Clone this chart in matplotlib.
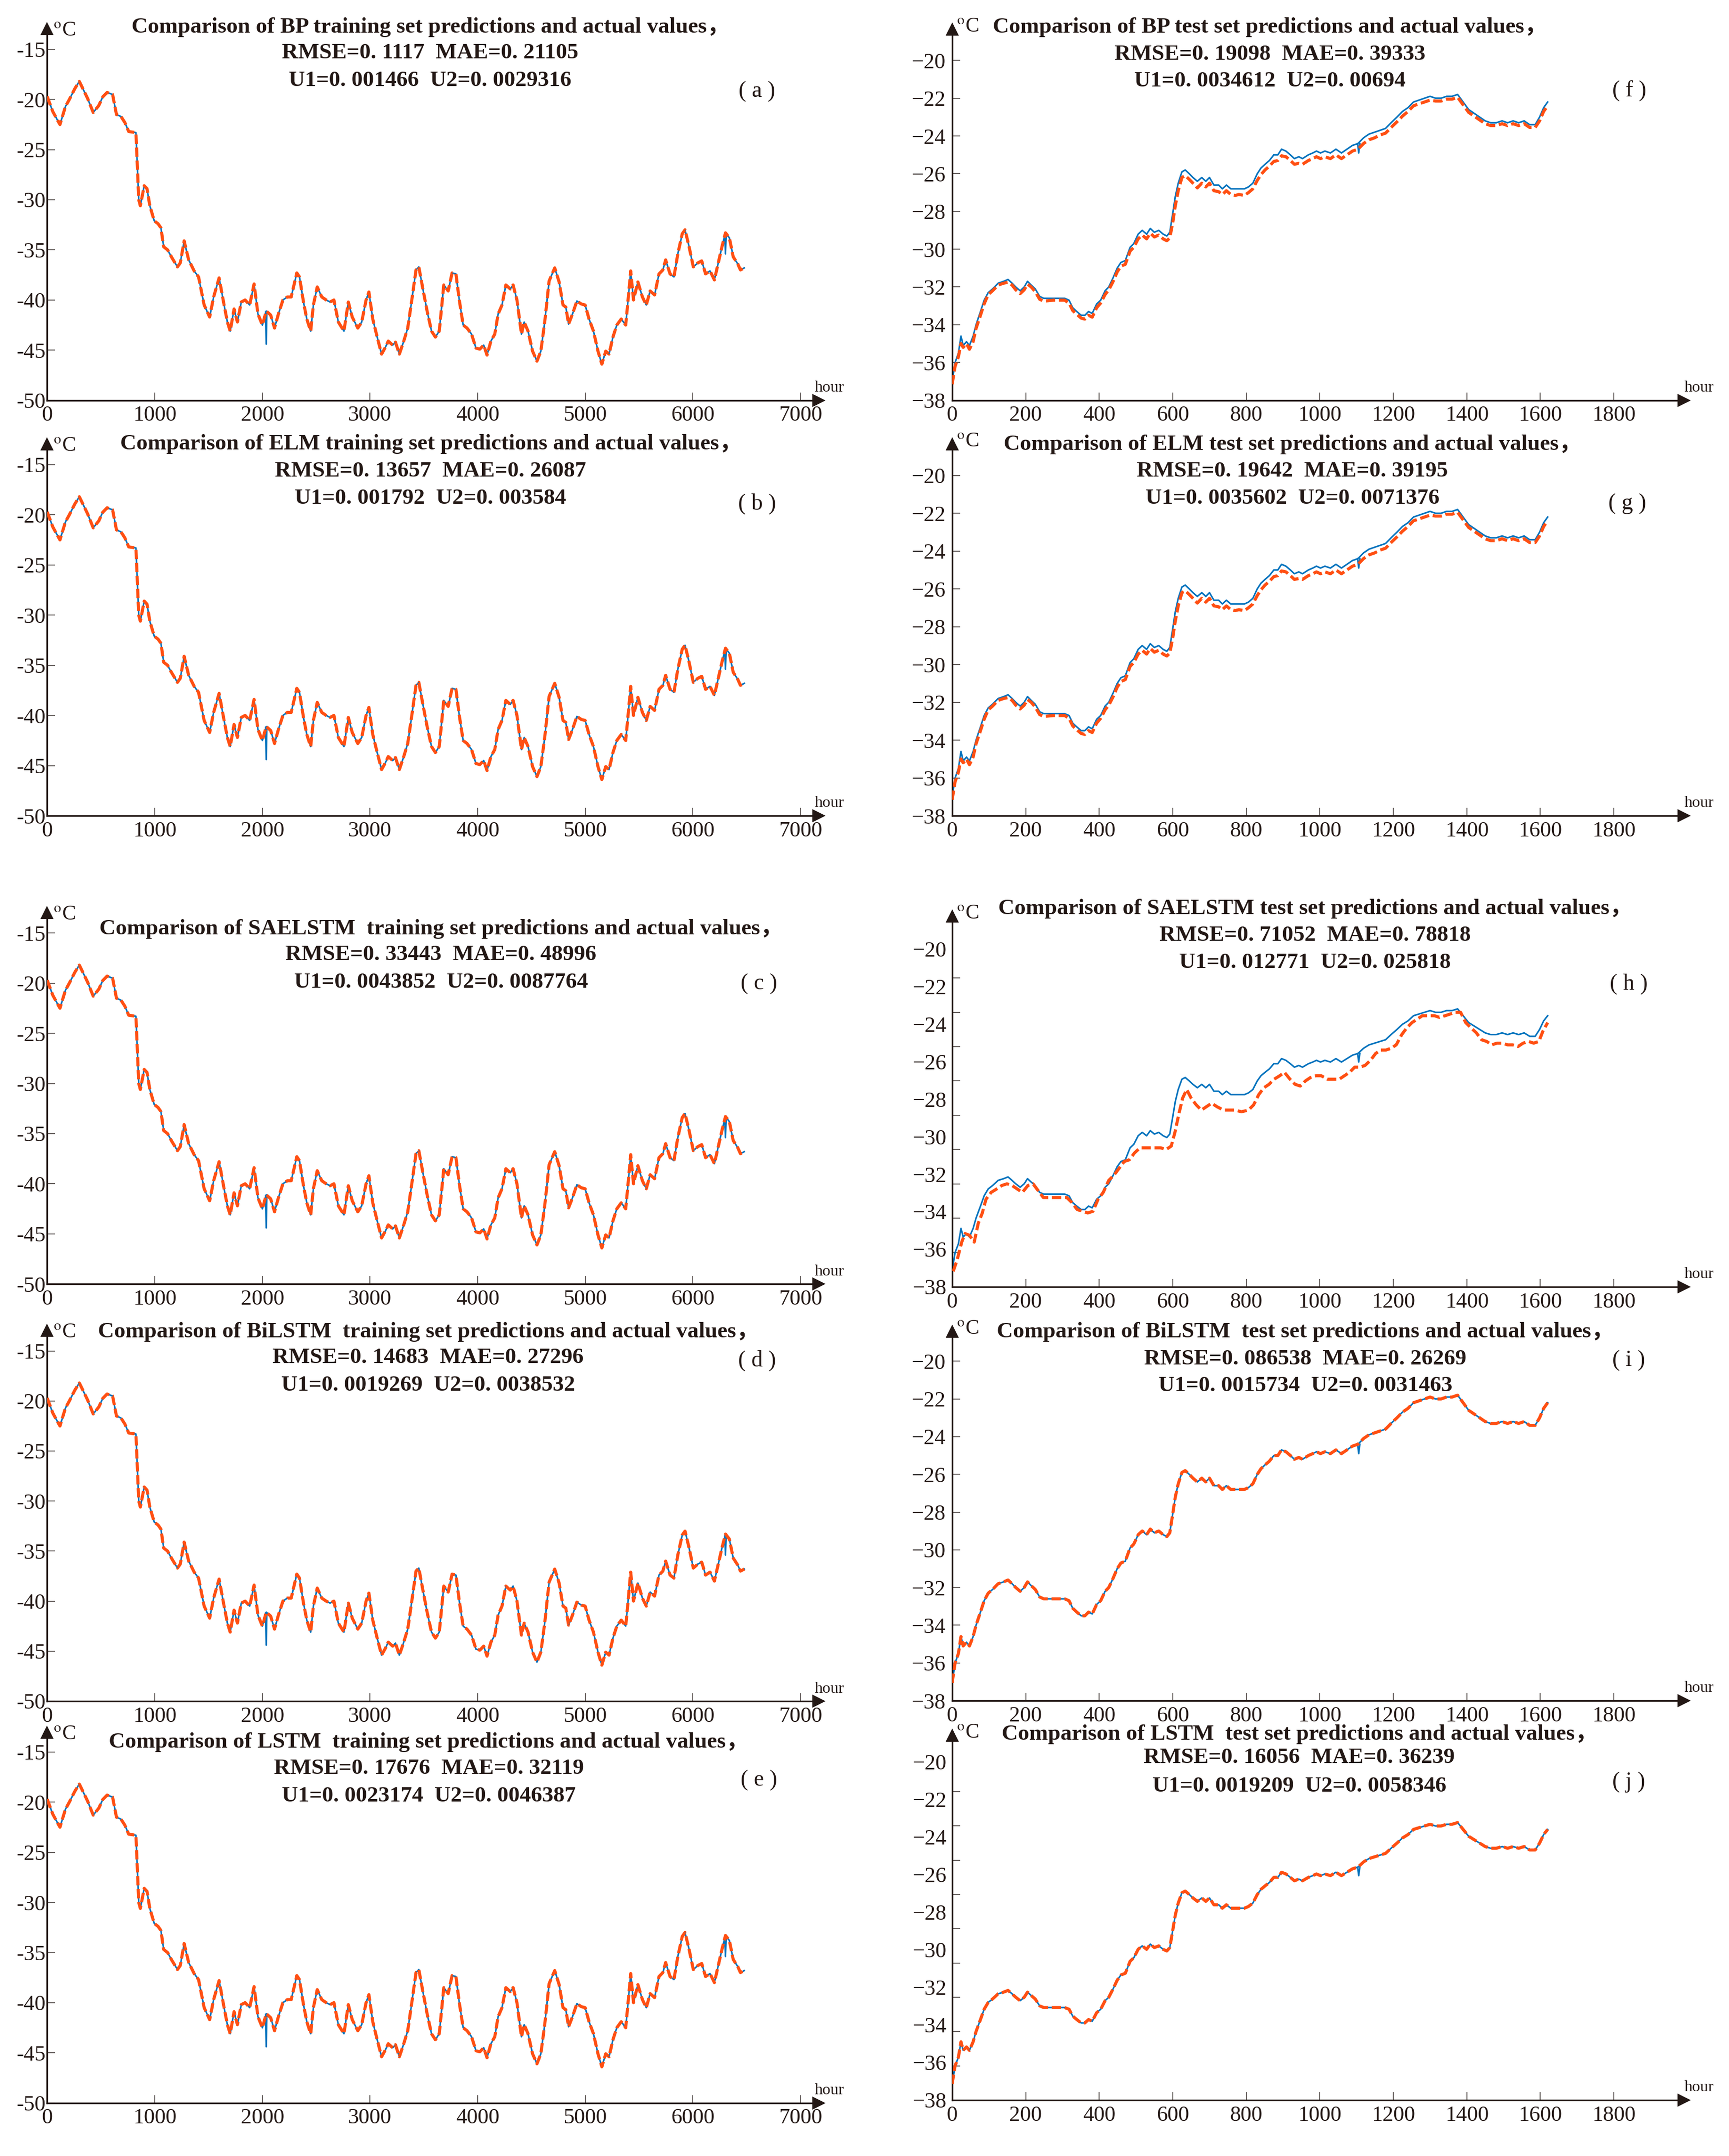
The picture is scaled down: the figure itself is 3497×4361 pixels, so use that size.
import matplotlib
matplotlib.use("Agg")
import matplotlib.pyplot as plt

# output size
W, H = 3497, 4361
DPI = 300

INK = '#231815'
BLUE = '#0072BD'
ORANGE = '#FF4F12'

# ---------------- data ----------------
# training set (shared by panels a-e), temperature in degC
train_hours = [0, 52, 103, 119, 170, 206, 258, 299, 335, 376, 428, 480, 516, 557, 608, 644, 686, 722, 758, 825,
               851, 866, 902, 928, 954, 995, 1031, 1057, 1083, 1119, 1160, 1211, 1237, 1273, 1315, 1366, 1407, 1459,
               1510, 1547, 1598, 1639, 1675, 1701, 1737, 1768, 1804, 1840, 1882, 1923, 1959, 2000, 2036, 2077, 2113,
               2149, 2191, 2232, 2268, 2294, 2320, 2345, 2382, 2413, 2449, 2474, 2510, 2552, 2593, 2629, 2665, 2706,
               2758, 2799, 2835, 2887, 2923, 2964, 2990, 3026, 3067, 3108, 3144, 3170, 3211, 3237, 3273, 3314, 3351,
               3386, 3428, 3454, 3490, 3531, 3572, 3608, 3644, 3686, 3727, 3763, 3799, 3830, 3866, 3902, 3944, 3985,
               4021, 4057, 4088, 4124, 4160, 4191, 4227, 4263, 4304, 4330, 4366, 4408, 4433, 4469, 4511, 4552, 4588,
               4624, 4665, 4717, 4758, 4794, 4820, 4846, 4882, 4923, 4964, 5000, 5036, 5077, 5119, 5155, 5191, 5222,
               5258, 5294, 5335, 5377, 5397, 5423, 5449, 5490, 5532, 5568, 5604, 5645, 5686, 5722, 5748, 5789, 5825,
               5861, 5902, 5928, 5964, 6005, 6047, 6083, 6119, 6160, 6201, 6237, 6273, 6304, 6340, 6376, 6418, 6443,
               6479]
train_actual = [-19.7, -21.2, -22.2, -22.5, -20.7, -20.0, -18.9, -18.2, -19.0, -19.9, -21.3, -20.6, -19.75, -19.3,
                -19.5, -21.5, -21.7, -22.3, -23.2, -23.3, -30.0, -30.6, -28.6, -28.9, -30.6, -32.1, -32.4, -32.8,
                -34.7, -35.0, -35.8, -36.7, -36.3, -34.1, -36.0, -37.1, -37.7, -40.5, -41.7, -39.7, -37.8, -40.2,
                -42.2, -43.1, -40.9, -42.2, -40.2, -40.0, -40.5, -38.4, -41.4, -42.5, -41.1, -41.5, -42.8, -41.4,
                -40.0, -39.7, -39.7, -38.5, -37.3, -37.7, -40.2, -41.9, -43.1, -40.5, -38.7, -39.7, -40.0, -40.2,
                -40.0, -42.2, -43.1, -40.2, -41.7, -42.8, -42.2, -40.0, -39.2, -41.9, -43.7, -45.4, -44.7, -44.1,
                -44.5, -44.2, -45.4, -44.1, -42.8, -40.2, -37.0, -36.7, -38.8, -41.1, -43.1, -43.7, -43.1, -38.5,
                -39.1, -37.3, -37.4, -40.0, -42.5, -42.8, -43.4, -44.8, -44.9, -44.5, -45.5, -44.1, -43.4, -41.4,
                -40.5, -38.5, -38.9, -38.5, -40.0, -43.4, -42.2, -43.1, -45.1, -46.1, -45.1, -42.2, -38.1, -36.8,
                -38.2, -40.5, -40.7, -42.4, -41.4, -40.1, -40.4, -40.5, -41.9, -43.1, -45.1, -46.4, -45.1, -45.4,
                -43.7, -42.5, -41.9, -42.5, -40.2, -37.1, -40.0, -38.2, -39.7, -40.5, -39.1, -39.5, -37.4, -37.0,
                -36.0, -37.4, -37.7, -35.4, -33.4, -33.0, -34.6, -36.7, -36.3, -36.1, -37.4, -37.1, -38.0, -36.3,
                -34.6, -33.3, -33.8, -35.7, -36.4, -37.0, -36.8]
# short downward spikes that only the actual series shows
train_spike_hours = [[2030, 2036, 2042], [6298, 6304, 6310]]
train_spike_vals = [[-41.2, -44.4, -41.3], [-33.5, -35.4, -33.6]]

# test set actual values (panels f-j)
test_hours = [0, 8, 17, 24, 30, 39, 47, 57, 65, 77, 87, 98, 110, 125, 140, 152, 163, 173, 185, 196, 205, 215, 226,
              238, 249, 276, 306, 318, 328, 339, 351, 361, 371, 381, 393, 404, 416, 426, 438, 449, 459, 471, 484,
              494, 506, 517, 529, 539, 550, 562, 574, 584, 592, 600, 607, 615, 625, 634, 645, 655, 667, 679, 690,
              700, 712, 725, 735, 746, 758, 770, 780, 795, 806, 818, 830, 840, 851, 863, 875, 886, 896, 908, 920,
              931, 943, 953, 969, 981, 991, 1002, 1014, 1029, 1044, 1059, 1074, 1089, 1104, 1119, 1134, 1149, 1164,
              1179, 1194, 1210, 1225, 1240, 1255, 1270, 1285, 1300, 1315, 1330, 1345, 1360, 1375, 1390, 1405, 1420,
              1435, 1450, 1465, 1480, 1496, 1511, 1526, 1541, 1556, 1571, 1586, 1598, 1609, 1620]
test_actual = [-37.05, -36.0, -35.5, -34.6, -35.1, -34.9, -35.1, -34.6, -34.0, -33.3, -32.7, -32.3, -32.1, -31.8,
               -31.7, -31.6, -31.8, -32.0, -32.2, -32.0, -31.7, -31.9, -32.1, -32.5, -32.6, -32.6, -32.6, -32.7,
               -33.1, -33.3, -33.5, -33.5, -33.3, -33.4, -32.9, -32.7, -32.2, -32.0, -31.5, -31.0, -30.7, -30.6,
               -29.9, -29.7, -29.2, -29.0, -29.2, -28.9, -29.1, -29.0, -29.2, -29.3, -29.1, -28.1, -27.2, -26.5,
               -25.9, -25.8, -26.0, -26.2, -26.4, -26.2, -26.4, -26.2, -26.6, -26.6, -26.8, -26.6, -26.8, -26.8,
               -26.8, -26.8, -26.7, -26.5, -26.0, -25.7, -25.5, -25.3, -25.0, -25.0, -24.7, -24.8, -25.0, -25.2,
               -25.1, -25.2, -25.0, -24.9, -24.8, -24.9, -24.8, -24.9, -24.7, -24.9, -24.7, -24.5, -24.4, -24.1,
               -23.9, -23.8, -23.7, -23.6, -23.3, -23.0, -22.7, -22.5, -22.2, -22.1, -22.0, -21.9, -22.0, -22.0,
               -21.9, -21.9, -21.8, -22.2, -22.6, -22.8, -23.0, -23.2, -23.3, -23.3, -23.2, -23.3, -23.2, -23.3,
               -23.2, -23.4, -23.4, -23.0, -22.5, -22.2]
test_spike_hours = [[1103, 1106, 1109]]
test_spike_vals = [[-24.4, -24.9, -24.4]]

# BP / ELM test predictions (same hours as test_hours)
test_pred_fg = [-37.15, -36.2, -35.7, -35.0, -35.2, -35.0, -35.3, -34.9, -34.2, -33.5, -32.9, -32.4, -32.2, -31.9,
                -31.8, -31.75, -31.9, -32.15, -32.35, -32.15, -31.85, -32.0, -32.25, -32.65, -32.75, -32.7, -32.7,
                -32.85, -33.25, -33.45, -33.65, -33.7, -33.5, -33.6, -33.1, -32.85, -32.4, -32.15, -31.7, -31.2,
                -30.9, -30.8, -30.1, -29.9, -29.45, -29.25, -29.45, -29.15, -29.35, -29.25, -29.45, -29.55, -29.4,
                -28.6, -27.7, -26.9, -26.2, -26.1, -26.3, -26.5, -26.75, -26.5, -26.7, -26.5, -26.9, -26.95, -27.1,
                -26.9, -27.1, -27.15, -27.1, -27.15, -27.0, -26.8, -26.35, -26.05, -25.8, -25.6, -25.35, -25.3,
                -25.05, -25.1, -25.3, -25.5, -25.45, -25.5, -25.3, -25.2, -25.1, -25.2, -25.1, -25.2, -25.0, -25.2,
                -25.0, -24.8, -24.7, -24.4, -24.2, -24.1, -23.95, -23.85, -23.55, -23.25, -22.95, -22.7, -22.4,
                -22.3, -22.2, -22.1, -22.15, -22.15, -22.05, -22.05, -21.95, -22.35, -22.75, -22.95, -23.15, -23.35,
                -23.45, -23.45, -23.35, -23.45, -23.35, -23.45, -23.35, -23.55, -23.55, -23.2, -22.7, -22.4]

# SAELSTM test predictions
test_pred_h_hours = [3, 14, 26, 35, 47, 60, 71, 82, 92, 106, 121, 135, 149, 163, 177, 191, 206, 220, 234, 248, 262,
                     277, 291, 312, 326, 340, 355, 369, 383, 397, 411, 426, 440, 454, 468, 482, 496, 511, 525, 539,
                     553, 567, 582, 596, 606, 617, 627, 638, 650, 664, 678, 692, 706, 720, 738, 752, 769, 787, 806,
                     820, 834, 848, 862, 876, 891, 904, 919, 933, 947, 961, 975, 990, 1004, 1021, 1036, 1053, 1067,
                     1081, 1095, 1109, 1123, 1138, 1152, 1166, 1180, 1194, 1208, 1223, 1237, 1251, 1265, 1279, 1298,
                     1312, 1326, 1341, 1355, 1369, 1383, 1397, 1411, 1426, 1440, 1454, 1468, 1482, 1497, 1511, 1525,
                     1539, 1553, 1568, 1582, 1596, 1607, 1620]
test_pred_h = [-37.1, -36.4, -35.4, -34.9, -35.0, -35.4, -34.3, -33.7, -32.9, -32.5, -32.3, -32.1, -32.0, -32.1,
               -32.3, -32.5, -32.1, -32.0, -32.4, -32.8, -32.8, -32.8, -32.8, -32.8, -33.1, -33.5, -33.6, -33.7,
               -33.6, -32.9, -32.5, -31.8, -31.5, -31.1, -30.7, -30.6, -30.2, -29.9, -29.9, -29.9, -29.9, -29.9,
               -30.0, -29.8, -29.0, -27.9, -27.0, -26.5, -27.0, -27.4, -27.7, -27.5, -27.3, -27.5, -27.7, -27.7,
               -27.7, -27.8, -27.7, -27.4, -26.8, -26.4, -26.2, -25.9, -25.7, -25.5, -25.9, -26.2, -26.3, -26.0,
               -25.8, -25.7, -25.7, -25.9, -25.9, -25.9, -25.7, -25.5, -25.2, -25.2, -25.1, -24.8, -24.4, -24.2,
               -24.2, -24.1, -23.9, -23.3, -22.9, -22.6, -22.4, -22.2, -22.2, -22.2, -22.3, -22.2, -22.1, -22.0,
               -22.0, -22.6, -22.9, -23.2, -23.6, -23.7, -23.9, -23.8, -23.8, -23.9, -23.9, -24.0, -23.8, -23.7,
               -23.8, -23.7, -23.1, -22.6]

train_xticks = [0, 1000, 2000, 3000, 4000, 5000, 6000, 7000]
test_xticks = [0, 200, 400, 600, 800, 1000, 1200, 1400, 1600, 1800]
train_yticks = [-15, -20, -25, -30, -35, -40, -45, -50]
train_ylabels = ['-15', '-20', '-25', '-30', '-35', '-40', '-45', '-50']
test_yticks = [-20, -22, -24, -26, -28, -30, -32, -34, -36, -38]
test_ylabels = ['\u221220', '\u221222', '\u221224', '\u221226', '\u221228', '\u221230', '\u221232', '\u221234',
                '\u221236', '\u221238']

titles = {
    'a': ['Comparison of BP training set predictions and actual values\uff0c', 'RMSE=0. 1117  MAE=0. 21105',
          'U1=0. 001466  U2=0. 0029316'],
    'b': ['Comparison of ELM training set predictions and actual values\uff0c', 'RMSE=0. 13657  MAE=0. 26087',
          'U1=0. 001792  U2=0. 003584'],
    'c': ['Comparison of SAELSTM  training set predictions and actual values\uff0c', 'RMSE=0. 33443  MAE=0. 48996',
          'U1=0. 0043852  U2=0. 0087764'],
    'd': ['Comparison of BiLSTM  training set predictions and actual values\uff0c', 'RMSE=0. 14683  MAE=0. 27296',
          'U1=0. 0019269  U2=0. 0038532'],
    'e': ['Comparison of LSTM  training set predictions and actual values\uff0c', 'RMSE=0. 17676  MAE=0. 32119',
          'U1=0. 0023174  U2=0. 0046387'],
    'f': ['Comparison of BP test set predictions and actual values\uff0c', 'RMSE=0. 19098  MAE=0. 39333',
          'U1=0. 0034612  U2=0. 00694'],
    'g': ['Comparison of ELM test set predictions and actual values\uff0c', 'RMSE=0. 19642  MAE=0. 39195',
          'U1=0. 0035602  U2=0. 0071376'],
    'h': ['Comparison of SAELSTM test set predictions and actual values\uff0c', 'RMSE=0. 71052  MAE=0. 78818',
          'U1=0. 012771  U2=0. 025818'],
    'i': ['Comparison of BiLSTM  test set predictions and actual values\uff0c', 'RMSE=0. 086538  MAE=0. 26269',
          'U1=0. 0015734  U2=0. 0031463'],
    'j': ['Comparison of LSTM  test set predictions and actual values\uff0c', 'RMSE=0. 16056  MAE=0. 36239',
          'U1=0. 0019209  U2=0. 0058346'],
}

# ---------------- layout (pixel positions in the 3497x4361 canvas) ----------------
# axis_y: x-axis line, top_tick_y: topmost tick, tip_y: arrow tip,
# lab_y: position of topmost tick label when it is shifted from its tick (h, j)
layout = {
    'a': dict(axis_y=809.6, top_tick_y=99.8, tip_y=50.8, title_y=(55, 107, 163), title_x=870, tag=(1531, 185)),
    'b': dict(axis_y=1650, top_tick_y=939.9, tip_y=891, title_y=(898, 952.5, 1008), title_x=871, tag=(1531, 1019)),
    'c': dict(axis_y=2597.3, top_tick_y=1887.2, tip_y=1839, title_y=(1879, 1931, 1987), title_x=892,
              tag=(1535, 1990)),
    'd': dict(axis_y=3441, top_tick_y=2732.6, tip_y=2683.6, title_y=(2694.5, 2746, 2802), title_x=866,
              tag=(1531, 2752)),
    'e': dict(axis_y=4253.6, top_tick_y=3543.8, tip_y=3497, title_y=(3524, 3577, 3632.5), title_x=867,
              tag=(1535, 3601)),
    'f': dict(axis_y=809.6, top_tick_y=122.3, tip_y=52, title_y=(55, 110, 164), title_x=2568, tag=(3295, 184)),
    'g': dict(axis_y=1650, top_tick_y=961.7, tip_y=891, title_y=(899, 953.5, 1008), title_x=2614, tag=(3291, 1019)),
    'h': dict(axis_y=2602.7, top_tick_y=1978.2, tip_y=1846, title_y=(1838, 1891.6, 1947), title_x=2660,
              tag=(3294, 1991), lab_y=1919.9),
    'i': dict(axis_y=3440, top_tick_y=2753.4, tip_y=2686, title_y=(2694.5, 2749, 2803.5), title_x=2640,
              tag=(3294, 2752)),
    'j': dict(axis_y=4247.8, top_tick_y=3624.2, tip_y=3503, title_y=(3508, 3555, 3613), title_x=2628,
              tag=(3294, 3605), lab_y=3563.5),
}
LEFT_X0, LEFT_PX_PER_UNIT, LEFT_XMAX = 95.4, 0.21763, 7165
RIGHT_X0, RIGHT_PX_PER_UNIT, RIGHT_XMAX = 1925.8, 0.7435, 1990

TICK_FS = 10.6
TITLE_FS = 10.9

plt.rcParams['font.family'] = ['Liberation Serif', 'Noto Sans CJK SC']
plt.rcParams['mathtext.fontset'] = 'stix'
plt.rcParams['axes.unicode_minus'] = False

fig = plt.figure(figsize=(W / DPI, H / DPI), dpi=DPI)


def fx(x):
    return x / W


def fy(y):
    return 1 - y / H


def make_axes(key, train):
    lay = layout[key]
    if train:
        x0, ppu, xmax = LEFT_X0, LEFT_PX_PER_UNIT, LEFT_XMAX
        bottom, top_tick = -50, -15
    else:
        x0, ppu, xmax = RIGHT_X0, RIGHT_PX_PER_UNIT, RIGHT_XMAX
        bottom, top_tick = -38, -20
    top_px = lay['tip_y'] + 8
    ax = fig.add_axes([fx(x0), fy(lay['axis_y']), (xmax * ppu) / W, (lay['axis_y'] - top_px) / H])
    unit_px = (lay['axis_y'] - lay['top_tick_y']) / (top_tick - bottom)
    ax.set_ylim(bottom, top_tick + (lay['top_tick_y'] - top_px) / unit_px)
    ax.set_xlim(0, xmax)
    for side in ('top', 'right'):
        ax.spines[side].set_visible(False)
    for side in ('left', 'bottom'):
        ax.spines[side].set_linewidth(0.8)
        ax.spines[side].set_color(INK)
    ax.patch.set_visible(False)
    ax.plot(1, 0, '>', color=INK, ms=5, transform=ax.transAxes, clip_on=False)
    ax.plot(0, 1, '^', color=INK, ms=5, transform=ax.transAxes, clip_on=False)
    ax.set_xticks(train_xticks if train else test_xticks)
    ax.set_xticklabels([str(t) for t in (train_xticks if train else test_xticks)])
    ax.tick_params(direction='in', length=3.8, width=0.5, color='#6b6563', labelcolor=INK,
                   labelsize=TICK_FS, pad=2.6)
    if train:
        ax.set_yticks(train_yticks)
        ax.set_yticklabels(train_ylabels)
        ax.tick_params(axis='y', pad=0.8)
    else:
        ax.set_yticks(test_yticks)
        if 'lab_y' in lay:
            # tick labels of these panels sit on their own, evenly spaced grid
            ax.set_yticklabels([''] * len(test_yticks))
            lab = ax.twinx()
            lab.set_position(ax.get_position())
            lab_px = (lay['axis_y'] - lay['lab_y']) / 18.0
            lab.set_ylim(-38, -20 + (lay['lab_y'] - top_px) / lab_px)
            lab.yaxis.tick_left()
            lab.set_yticks(test_yticks)
            lab.set_yticklabels(test_ylabels)
            lab.tick_params(axis='y', length=0, labelsize=TICK_FS, labelcolor=INK, pad=2.6)
            for s in lab.spines.values():
                s.set_visible(False)
            lab.patch.set_visible(False)
        else:
            ax.set_yticklabels(test_ylabels)
            ax.tick_params(axis='y', pad=3.2)

    # texts
    for line, y in zip(titles[key], lay['title_y']):
        fig.text(fx(lay['title_x']), fy(y), line, ha='center', va='center', fontsize=TITLE_FS,
                 fontweight='bold', color=INK)
    fig.text(fx(lay['tag'][0]), fy(lay['tag'][1]), '( ' + key + ' )', ha='center', va='center',
             fontsize=11, color=INK)
    if train:
        fig.text(fx(108), fy(lay['tip_y'] + 12), r'$^{\mathrm{o}}$C', ha='left', va='center',
                 fontsize=10, color=INK)
        fig.text(fx(1678), fy(lay['axis_y'] - 25), 'hour', ha='center', va='center', fontsize=7.8, color=INK)
    else:
        fig.text(fx(1935), fy(lay['tip_y'] + 3), r'$^{\mathrm{o}}$C', ha='left', va='center',
                 fontsize=10, color=INK)
        fig.text(fx(3437), fy(lay['axis_y'] - 25), 'hour', ha='center', va='center', fontsize=7.8, color=INK)
    return ax


def draw(ax, hours, actual, spikes_h, spikes_v, pred_hours, pred):
    ax.plot(hours, actual, color=BLUE, lw=0.75, zorder=2)
    for sh, sv in zip(spikes_h, spikes_v):
        ax.plot(sh, sv, color=BLUE, lw=0.75, zorder=2)
    ax.plot(pred_hours, pred, color=ORANGE, lw=1.5, ls=(0, (3, 1.2)), zorder=3)


for key in 'abcde':
    ax = make_axes(key, True)
    draw(ax, train_hours, train_actual, train_spike_hours, train_spike_vals, train_hours, train_actual)

for key in 'fghij':
    ax = make_axes(key, False)
    if key in 'fg':
        ph, pv = test_hours, test_pred_fg
    elif key == 'h':
        ph, pv = test_pred_h_hours, test_pred_h
    else:
        ph, pv = test_hours, test_actual
    draw(ax, test_hours, test_actual, test_spike_hours, test_spike_vals, ph, pv)

fig.savefig('out.png', dpi=DPI, facecolor='white')
